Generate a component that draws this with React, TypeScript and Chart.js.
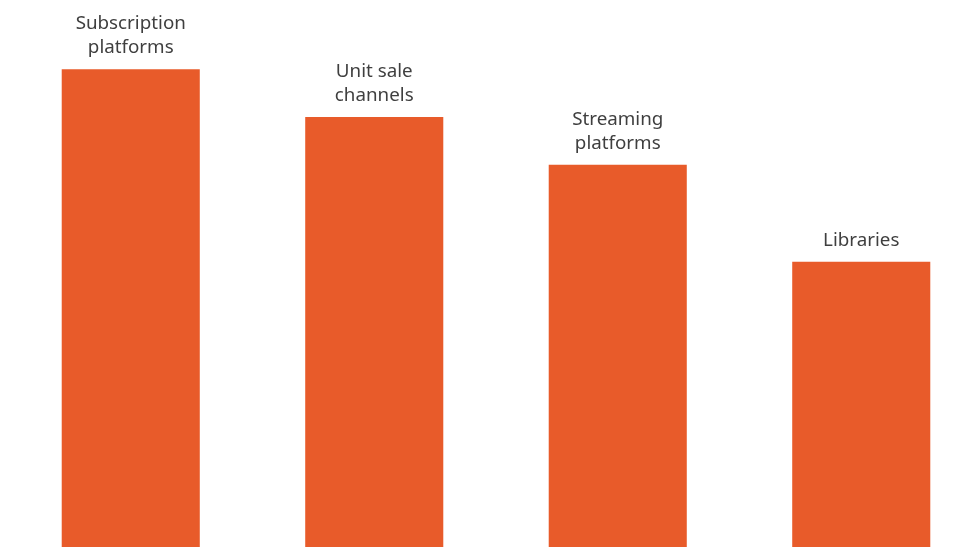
import React, { useEffect, useRef } from "react";
import { Chart, registerables } from "chart.js";

Chart.register(...registerables);

const categories: string[][] = [
  ["Subscription", "platforms"],
  ["Unit sale", "channels"],
  ["Streaming", "platforms"],
  ["Libraries"],
];
const values: number[] = [100, 90, 80, 59.7];

const BAR_COLOR = "#E85B2A";
const TEXT_COLOR = "#3f3f3f";

const labelPlugin = {
  id: "barTopLabels",
  afterDatasetsDraw(chart: any) {
    const ctx = chart.ctx;
    const meta = chart.getDatasetMeta(0);
    ctx.save();
    ctx.fillStyle = TEXT_COLOR;
    ctx.font = '18.8px "Noto Sans", sans-serif';
    ctx.textAlign = "center";
    ctx.textBaseline = "alphabetic";
    const lineH = 24;
    meta.data.forEach((bar: any, i: number) => {
      const lines = categories[i];
      const lastBase = bar.y - 16;
      lines.forEach((line, j) => {
        const y = lastBase - (lines.length - 1 - j) * lineH;
        ctx.fillText(line, bar.x, y);
      });
    });
    ctx.restore();
  },
};

export default function App() {
  const ref = useRef<HTMLCanvasElement | null>(null);

  useEffect(() => {
    if (!ref.current) return;
    const chart = new Chart(ref.current, {
      type: "bar",
      data: {
        labels: categories.map((c) => c.join(" ")),
        datasets: [
          {
            data: values,
            backgroundColor: BAR_COLOR,
            borderWidth: 0,
            barPercentage: 0.567,
            categoryPercentage: 1,
          },
        ],
      },
      options: {
        responsive: false,
        animation: false,
        layout: { padding: { left: 9, right: 9, top: 0, bottom: 0 } },
        plugins: { legend: { display: false }, tooltip: { enabled: false } },
        scales: {
          x: { display: false, offset: true },
          y: { display: false, min: 0, max: 114.5 },
        },
      },
      plugins: [labelPlugin],
    });
    return () => chart.destroy();
  }, []);

  return (
    <div
      style={{
        position: "fixed",
        left: 0,
        top: 0,
        width: 972,
        height: 547,
        overflow: "hidden",
        background: "#ffffff",
      }}
    >
      <canvas ref={ref} width={992} height={547} style={{ display: "block" }} />
    </div>
  );
}
